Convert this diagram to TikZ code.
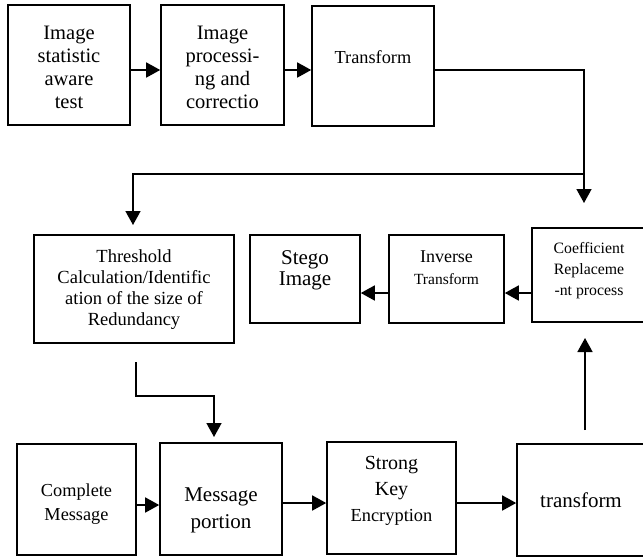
\documentclass[tikz,border=0pt]{standalone}
\usepackage{fontspec}
\setmainfont{Liberation Serif}
\usetikzlibrary{arrows.meta}
\begin{document}
\begin{tikzpicture}[x=1pt, y=-1pt, line join=miter, >={Triangle[length=14pt,width=15pt]},
	blk/.style={draw, line width=1.6pt, inner sep=0pt},
	txt/.style={align=center, inner sep=0pt},
	big/.style={font=\fontsize{20.5}{23}\selectfont},
	mid/.style={font=\fontsize{18.3}{21}\selectfont},
	sml/.style={font=\fontsize{15.8}{21}\selectfont},
	arr/.style={line width=1.6pt, ->}]
	\clip (0,0) rectangle (643,557);
	
	% top row
	\node[blk, minimum width=122pt, minimum height=120pt] (stat) at (69,65) {};
	\node[blk, minimum width=123pt, minimum height=120pt] (proc) at (222.5,65) {};
	\node[blk, minimum width=122pt, minimum height=120pt] (trf) at (373,66) {};
	\node[txt, big] (stat-t) at (69,67) {Image\\statistic\\aware\\test};
	\node[txt, big] (proc-t) at (222.5,67) {Image\\processi-\\ng and\\correctio};
	\node[txt, mid] (trf-t) at (373,57) {Transform};
	
	% middle row
	\node[blk, minimum width=200pt, minimum height=108pt] (thr) at (134,289) {};
	\node[blk, minimum width=110pt, minimum height=88pt] (stego) at (305,279) {};
	\node[blk, minimum width=115pt, minimum height=88pt] (inv) at (446.5,279) {};
	\node[blk, minimum width=114pt, minimum height=94pt] (coef) at (589,275) {};
	\node[txt, font=\fontsize{18.5}{21}\selectfont] (thr-t) at (134,290) {Threshold\\Calculation/Identific\\ation of the size of\\Redundancy};
	\node[txt, font=\fontsize{21}{21}\selectfont] (stego-t) at (305,270) {Stego\\Image};
	\node[txt, font=\fontsize{18}{22}\selectfont] (inv-t) at (446.5,268) {Inverse\\{\fontsize{15.5}{22}\selectfont Transform}};
	\node[txt, sml] (coef-t) at (589,271) {Coefficient\\Replaceme\\-nt process};
	
	% bottom row
	\node[blk, minimum width=119pt, minimum height=111pt] (cmsg) at (76.5,499.5) {};
	\node[blk, minimum width=122pt, minimum height=112pt] (mpart) at (221,499) {};
	\node[blk, minimum width=129pt, minimum height=112pt] (enc) at (391.5,498) {};
	\node[blk, minimum width=128pt, minimum height=112pt] (trb) at (581,500) {};
	\node[txt, font=\fontsize{18.3}{24}\selectfont] (cmsg-t) at (76.5,504) {Complete\\Message};
	\node[txt, font=\fontsize{21}{27}\selectfont] (mpart-t) at (221,510) {Message\\portion};
	\node[txt, font=\fontsize{20}{26}\selectfont] (enc-t) at (391.5,491) {Strong\\Key\\{\fontsize{18.4}{25}\selectfont Encryption}};
	\node[txt, font=\fontsize{21}{24}\selectfont] (trb-t) at (581,500) {transform};
	
	% free ends of the open connectors
	\coordinate (split) at (584,174);
	\coordinate (cdrop) at (584,203);
	\coordinate (tdrop) at (133,225);
	\coordinate (rise) at (585,430);
	\coordinate (ctip) at (585,338);
	\coordinate (thr-out) at (136,362);
	\coordinate (mp-in) at (214,437);
	
	\draw[arr] ([yshift=-5pt]stat.east) -- ([yshift=-5pt]proc.west);
	\draw[arr] ([yshift=-5pt]proc.east) -- ([yshift=-4pt]trf.west);
	\draw[arr] ([yshift=-4pt]trf.east) -| (cdrop);
	\draw[arr] (split) -| (tdrop);
	
	\draw[arr] (coef.west |- 0,293) -- (inv.east |- 0,293);
	\draw[arr] (inv.west |- 0,293) -- (stego.east |- 0,293);
	\draw[arr] (rise) -- (ctip);
	\draw[arr] (thr-out) -- (136,396) -| (mp-in);
	
	\draw[arr] (cmsg.east |- 0,505) -- (mpart.west |- 0,505);
	\draw[arr] (mpart.east |- 0,503) -- (enc.west |- 0,503);
	\draw[arr] (enc.east |- 0,503) -- (trb.west |- 0,503);
\end{tikzpicture}
\end{document}
